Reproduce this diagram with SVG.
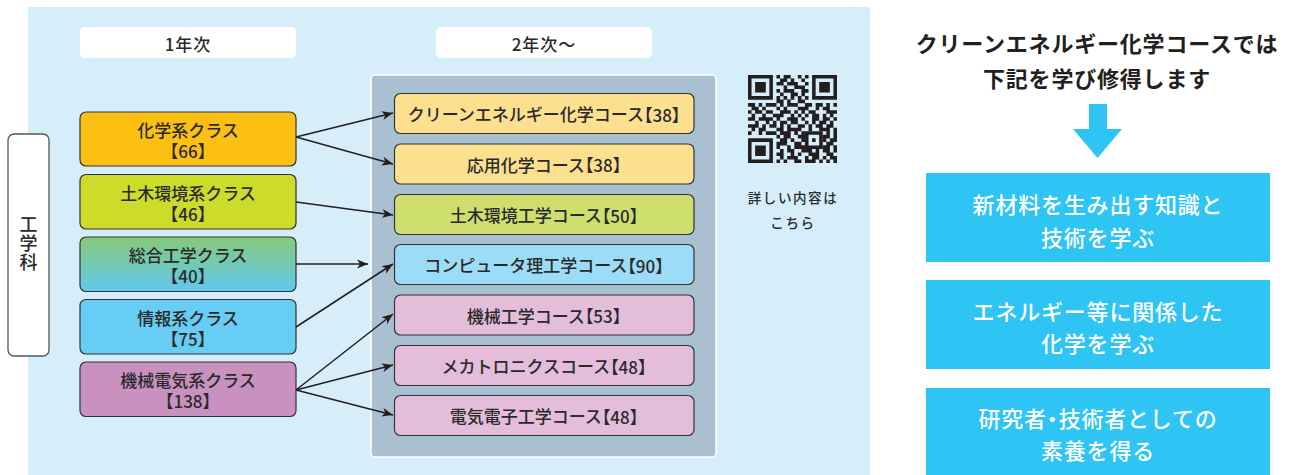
<svg xmlns="http://www.w3.org/2000/svg" width="1289" height="475" viewBox="0 0 1289 475">
<defs>
<style>
.t{font-family:"Noto Sans CJK JP","Noto Sans",sans-serif;fill:#2a2a2a;font-weight:500;text-anchor:middle;dominant-baseline:central}
.h{font-feature-settings:"halt"}
.b{font-weight:700;fill:#231f20;font-size:22px;letter-spacing:0.8px}
.cls{stroke:#333;stroke-width:1.2}
.crs{stroke:#333;stroke-width:1.2}
.hdr{fill:#fff}
.w{fill:#fff;font-weight:500;font-size:22px;letter-spacing:0.8px}
.blue{fill:#2ec4f3}
.con{stroke:#231f20;stroke-width:1.5;fill:none;marker-end:url(#ah)}
</style>
<marker id="ah" markerUnits="userSpaceOnUse" markerWidth="12" markerHeight="10" refX="11" refY="5" orient="auto">
<path d="M0 0.5L11 5L0 9.5L3 5z" fill="#231f20"/>
</marker>
<linearGradient id="gsg" x1="0" y1="0" x2="0" y2="1">
<stop offset="0" stop-color="#86c97a"/>
<stop offset="1" stop-color="#62c9ef"/>
</linearGradient>
</defs>
<rect x="0" y="0" width="1289" height="475" fill="#fff"/>
<rect x="28" y="7" width="842" height="468" fill="#d6edfa"/>

<g id="headers">
<rect x="80" y="27" width="216" height="31" rx="5" class="hdr"/>
<text x="188" y="43" class="t" font-size="17" letter-spacing="1">1年次</text>
<rect x="436" y="27" width="216" height="31" rx="5" class="hdr"/>
<text x="544" y="43" class="t" font-size="17" letter-spacing="1">2年次〜</text>
</g>

<g id="dept">
<rect x="8" y="134" width="41" height="222" rx="6" fill="#fff" stroke="#555" stroke-width="1.3"/>
<text x="28.5" y="244" class="t" font-size="18" style="writing-mode:vertical-rl" letter-spacing="1">工学科</text>
</g>

<g id="course-panel">
<rect x="371" y="75" width="345" height="382" rx="4" fill="#a8c0cf" stroke="#fff" stroke-width="1.5"/>
</g>

<g id="class-chem">
<rect x="80" y="112" width="216" height="54" rx="6" fill="#fcc012" class="cls"/>
<text class="t" font-size="17"><tspan x="188" y="129">化学系クラス</tspan><tspan x="188" y="150" class="h">【66】</tspan></text>
</g>
<g id="class-civil">
<rect x="80" y="174.5" width="216" height="54.5" rx="6" fill="#cddc29" class="cls"/>
<text class="t" font-size="17"><tspan x="188" y="192">土木環境系クラス</tspan><tspan x="188" y="213" class="h">【46】</tspan></text>
</g>
<g id="class-general">
<rect x="80" y="237" width="216" height="54.5" rx="6" fill="url(#gsg)" class="cls"/>
<text class="t" font-size="17"><tspan x="188" y="254">総合工学クラス</tspan><tspan x="188" y="275" class="h">【40】</tspan></text>
</g>
<g id="class-info">
<rect x="80" y="299.5" width="216" height="54.5" rx="6" fill="#68cdf5" class="cls"/>
<text class="t" font-size="17"><tspan x="188" y="317">情報系クラス</tspan><tspan x="188" y="338" class="h">【75】</tspan></text>
</g>
<g id="class-mech">
<rect x="80" y="362" width="216" height="54.5" rx="6" fill="#c991c0" class="cls"/>
<text class="t" font-size="17"><tspan x="188" y="379">機械電気系クラス</tspan><tspan x="188" y="400" class="h">【138】</tspan></text>
</g>

<g id="course-clean">
<rect x="394.5" y="93.5" width="299.5" height="40" rx="6" fill="#fde08f" class="crs"/>
<text x="544" y="113.5" class="t" font-size="17">クリーンエネルギー化学コース<tspan class="h">【38】</tspan></text>
</g>
<g id="course-applied">
<rect x="394.5" y="144" width="299.5" height="40" rx="6" fill="#fde08f" class="crs"/>
<text x="544" y="164" class="t" font-size="17">応用化学コース<tspan class="h">【38】</tspan></text>
</g>
<g id="course-civil">
<rect x="394.5" y="194.5" width="299.5" height="40" rx="6" fill="#cfdf6e" class="crs"/>
<text x="544" y="214.5" class="t" font-size="17">土木環境工学コース<tspan class="h">【50】</tspan></text>
</g>
<g id="course-cs">
<rect x="394.5" y="244.5" width="299.5" height="40" rx="6" fill="#9cdcf7" class="crs"/>
<text x="544" y="264.5" class="t" font-size="17">コンピュータ理工学コース<tspan class="h">【90】</tspan></text>
</g>
<g id="course-mech">
<rect x="394.5" y="295" width="299.5" height="40" rx="6" fill="#e4bddb" class="crs"/>
<text x="544" y="315" class="t" font-size="17">機械工学コース<tspan class="h">【53】</tspan></text>
</g>
<g id="course-mechatro">
<rect x="394.5" y="345.5" width="299.5" height="40" rx="6" fill="#e4bddb" class="crs"/>
<text x="544" y="365.5" class="t" font-size="17">メカトロニクスコース<tspan class="h">【48】</tspan></text>
</g>
<g id="course-ee">
<rect x="394.5" y="395.5" width="299.5" height="40" rx="6" fill="#e4bddb" class="crs"/>
<text x="544" y="415.5" class="t" font-size="17">電気電子工学コース<tspan class="h">【48】</tspan></text>
</g>

<g id="connectors">
<path class="con" d="M296 137L393 113"/>
<path class="con" d="M296 137L393 164"/>
<path class="con" d="M296 202L393 215"/>
<path class="con" d="M296 264L368 264"/>
<path class="con" d="M296 327L393 264"/>
<path class="con" d="M296 390L393 314"/>
<path class="con" d="M296 390L393 365"/>
<path class="con" d="M296 390L393 415"/>
</g>

<g id="qr">
<g transform="translate(748,75) scale(3.56,3.52)" fill="#231f20">
<path fill-rule="evenodd" d="M0 0h7v7h-7zM1 1v5h5v-5zM2 2h3v3h-3z M18 0h7v7h-7zM19 1v5h5v-5zM20 2h3v3h-3z M0 18h7v7h-7zM1 19v5h5v-5zM2 20h3v3h-3z M16 16h5v5h-5zM17 17v3h3v-3zM18 18h1v1h-1z"/>
<path fill="none" stroke="#231f20" stroke-width="1.02" d="M8 0.5h1M10 0.5h2M14 0.5h1M16 0.5h1
M9 1.5h2M12 1.5h1M15 1.5h1
M8 2.5h2M11 2.5h3M16 2.5h1
M10 3.5h1M13 3.5h3
M8 4.5h1M10 4.5h3M15 4.5h2
M9 5.5h1M12 5.5h2M15 5.5h1
M8 6.5h1M10 6.5h1M12 6.5h1M14 6.5h1M16 6.5h1
M8 7.5h2M11 7.5h1M14 7.5h2
M0 8.5h2M3 8.5h1M5 8.5h3M9 8.5h1M11 8.5h3M16 8.5h2M19 8.5h2M22 8.5h1M24 8.5h1
M1 9.5h2M4 9.5h1M8 9.5h1M10 9.5h1M14 9.5h3M19 9.5h1M21 9.5h2
M0 10.5h1M2 10.5h2M5 10.5h2M9 10.5h3M13 10.5h1M15 10.5h1M17 10.5h2M22 10.5h3
M1 11.5h1M4 11.5h1M7 11.5h3M12 11.5h1M14 11.5h1M16 11.5h1M18 11.5h2M21 11.5h1M23 11.5h1
M0 12.5h2M3 12.5h4M8 12.5h1M11 12.5h3M15 12.5h1M18 12.5h2M21 12.5h2M24 12.5h1
M2 13.5h1M5 13.5h1M7 13.5h1M9 13.5h2M12 13.5h2M16 13.5h1M18 13.5h1M20 13.5h2M23 13.5h1
M0 14.5h3M4 14.5h1M6 14.5h2M9 14.5h1M11 14.5h1M14 14.5h2M17 14.5h1M19 14.5h2M22 14.5h2
M1 15.5h1M3 15.5h2M8 15.5h2M11 15.5h4M17 15.5h1M20 15.5h3M24 15.5h1
M0 16.5h1M3 16.5h1M5 16.5h3M9 16.5h3M13 16.5h1M15 16.5h1M22 16.5h1M24 16.5h1
M8 17.5h1M10 17.5h2M14 17.5h2M21 17.5h2M24 17.5h1
M9 18.5h2M12 18.5h1M15 18.5h1M21 18.5h1M23 18.5h2
M8 19.5h3M13 19.5h2M22 19.5h2
M8 20.5h1M11 20.5h1M13 20.5h3M21 20.5h2M24 20.5h1
M9 21.5h1M11 21.5h2M15 21.5h3M19 21.5h1M21 21.5h2M24 21.5h1
M8 22.5h2M12 22.5h1M14 22.5h1M17 22.5h3M22 22.5h2
M9 23.5h1M11 23.5h3M16 23.5h1M18 23.5h2M21 23.5h1M23 23.5h2
M8 24.5h1M10 24.5h1M13 24.5h2M16 24.5h3M20 24.5h1M22 24.5h1M24 24.5h1"/>
</g>
<text x="793" y="197" class="t" font-size="13.5" letter-spacing="1.6">詳しい内容は</text>
<text x="793" y="222" class="t" font-size="13.5" letter-spacing="1.6">こちら</text>
</g>

<g id="title">
<text x="1097" y="42" class="t b">クリーンエネルギー化学コースでは</text>
<text x="1097" y="77" class="t b">下記を学び修得します</text>
</g>

<g id="down-arrow">
<path class="blue" d="M1089 104h18v25h15l-24.5 29l-24.5-29h16z"/>
</g>

<g id="goal-1">
<rect x="926" y="173" width="344" height="89" class="blue"/>
<text x="1098" y="203" class="t w">新材料を生み出す知識と</text>
<text x="1098" y="236" class="t w">技術を学ぶ</text>
</g>
<g id="goal-2">
<rect x="926" y="280" width="344" height="89" class="blue"/>
<text x="1098" y="310" class="t w">エネルギー等に関係した</text>
<text x="1098" y="342" class="t w">化学を学ぶ</text>
</g>
<g id="goal-3">
<rect x="926" y="388" width="344" height="87" class="blue"/>
<text x="1098" y="417" class="t w">研究者<tspan class="h">・</tspan>技術者としての</text>
<text x="1098" y="449" class="t w">素養を得る</text>
</g>
</svg>
